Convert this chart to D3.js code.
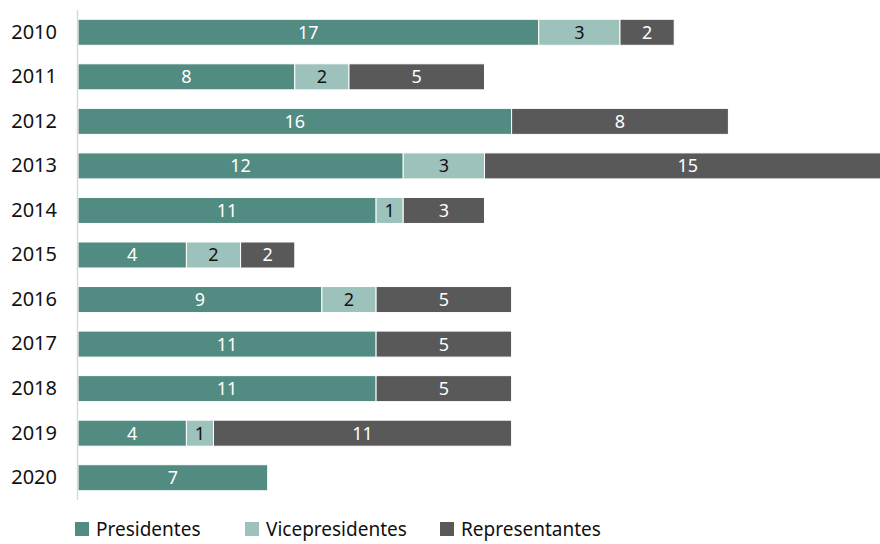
<!DOCTYPE html>
<html><head><meta charset="utf-8">
<script src="https://cdn.jsdelivr.net/npm/d3@7"></script>
<style>body{margin:0;background:#fff}svg{display:block;font-family:"Noto Sans",sans-serif}</style>
</head><body><svg id="c" width="880" height="544"></svg>
<script>
const years = ["2010","2011","2012","2013","2014","2015","2016","2017","2018","2019","2020"];
const presidentes = [17,8,16,12,11,4,9,11,11,4,7];
const vicepresidentes = [3,2,0,3,1,2,2,0,0,1,0];
const representantes = [2,5,8,15,3,2,5,5,5,11,0];
const seriesNames = ["Presidentes","Vicepresidentes","Representantes"];
const colors = ["#528b82","#9dc1bb","#595959"];
const labelColors = ["#ffffff","#111111","#ffffff"];

const svg = d3.select("#c");
const x = d3.scaleLinear().domain([0,30]).range([78,891]);
const y = d3.scaleBand().domain(years).range([10,500]).paddingInner(0.416).paddingOuter(0.208);

const rows = years.map((yr,i)=>({year:yr, Presidentes:presidentes[i], Vicepresidentes:vicepresidentes[i], Representantes:representantes[i]}));
const stack = d3.stack().keys(seriesNames)(rows);

const g = svg.append("g");
stack.forEach((s,si)=>{
  const sg = g.append("g");
  sg.selectAll("rect").data(s.filter(d=>d[1]-d[0]>0)).join("rect")
    .attr("x",d=>x(d[0])).attr("width",d=>x(d[1])-x(d[0]))
    .attr("y",d=>y(d.data.year)).attr("height",y.bandwidth())
    .attr("fill",colors[si]).attr("stroke","#fff").attr("stroke-width",1);
  sg.selectAll("text").data(s.filter(d=>d[1]-d[0]>0)).join("text")
    .attr("x",d=>(x(d[0])+x(d[1]))/2).attr("y",d=>y(d.data.year)+y.bandwidth()/2)
    .attr("dy","0.36em").attr("text-anchor","middle")
    .attr("font-size",18).attr("fill",labelColors[si])
    .text(d=>d[1]-d[0]);
});

// axis
svg.append("line").attr("x1",77.5).attr("x2",77.5).attr("y1",10).attr("y2",500).attr("stroke","#d9d9d9").attr("stroke-width",1.5);
const ya = svg.append("g").attr("transform","translate(57,0)").call(d3.axisLeft(y).tickSize(0).tickPadding(0));
ya.select(".domain").remove();
ya.selectAll("text").attr("font-size",20).attr("fill","#111").attr("font-family","Noto Sans, sans-serif");

// legend
const lx = [75,245,440];
const leg = svg.append("g");
seriesNames.forEach((n,i)=>{
  leg.append("rect").attr("x",lx[i]).attr("y",522).attr("width",14).attr("height",14).attr("fill",colors[i]);
  leg.append("text").attr("x",lx[i]+21).attr("y",529).attr("dy","0.36em").attr("font-size",19).attr("fill","#111").text(n);
});
</script></body></html>
